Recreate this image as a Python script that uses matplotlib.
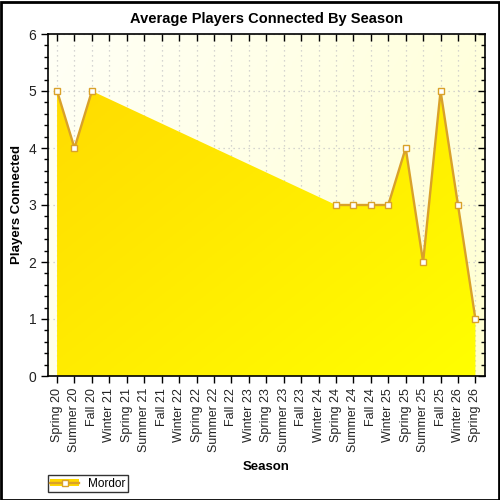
import numpy as np
import matplotlib
matplotlib.use("Agg")
import matplotlib.pyplot as plt
from matplotlib.colors import LinearSegmentedColormap
from matplotlib.patches import Rectangle, Patch
from matplotlib.lines import Line2D
from matplotlib.ticker import MultipleLocator

plt.rcParams['font.family'] = ['Liberation Sans', 'DejaVu Sans']

seasons = ["Spring 20", "Summer 20", "Fall 20", "Winter 21", "Spring 21", "Summer 21",
           "Fall 21", "Winter 22", "Spring 22", "Summer 22", "Fall 22", "Winter 23",
           "Spring 23", "Summer 23", "Fall 23", "Winter 24", "Spring 24", "Summer 24",
           "Fall 24", "Winter 25", "Spring 25", "Summer 25", "Fall 25", "Winter 26",
           "Spring 26"]
mordor = [5, 4, 5, None, None, None, None, None, None, None, None, None, None, None,
          None, None, 3, 3, 3, 3, 4, 2, 5, 3, 1]

x = np.arange(len(seasons))
y = np.array([np.nan if v is None else v for v in mordor], dtype=float)
valid = ~np.isnan(y)

fig = plt.figure(figsize=(5, 5), dpi=100)
ax = fig.add_axes([0.096, 0.248, 0.874, 0.684])
ax.set_xlim(-0.52, 24.55)
ax.set_ylim(0, 6)

# background gradient
bg = LinearSegmentedColormap.from_list("bg", ["#FFFFF6", "#FFFFD2"])
gx, gy = np.meshgrid(np.linspace(0, 1, 200), np.linspace(1, 0, 200))
ax.imshow(gx * 0.7 + (1 - gy) * 0.3, cmap=bg, extent=[0, 1, 0, 1], transform=ax.transAxes,
          aspect='auto', zorder=0, vmin=0, vmax=1)

# grid
ax.set_xticks(x)
ax.grid(True, which='major', color='#C8C8C8', linestyle=(0, (1, 3)), linewidth=0.9, zorder=1)

# area fill with gradient
poly = ax.fill_between(x[valid], 0, y[valid], color='none', zorder=2)
fg = LinearSegmentedColormap.from_list("fg", ["#FFD800", "#FFFF00"])
im = ax.imshow(gx * 0.5 + (1 - gy) * 0.5, cmap=fg, extent=[0, 1, 0, 1], transform=ax.transAxes,
               aspect='auto', zorder=2, vmin=0, vmax=1)
path = poly.get_paths()[0]
im.set_clip_path(path, transform=ax.transData)

# line (broken where missing) and markers
ax.plot(x, y, color='#D9A12A', linewidth=1.7, zorder=3, solid_joinstyle='miter')
ax.plot(x[valid], y[valid], linestyle='none', marker='s', markersize=5,
        markerfacecolor='white', markeredgecolor='#D9A12A', markeredgewidth=1.0, zorder=4)

# ticks
ax.set_xticklabels(seasons, rotation=90, fontsize=9, color='#222222')
ax.yaxis.set_major_locator(MultipleLocator(1))
ax.yaxis.set_minor_locator(MultipleLocator(0.2))
ax.tick_params(axis='y', which='major', direction='out', length=5, width=1,
               labelsize=10, labelcolor='#222222', right=True)
ax.tick_params(axis='y', which='minor', direction='out', length=3, width=1, right=True)
ax.tick_params(axis='x', which='major', direction='out', length=5, width=1, top=True)
for t in ax.yaxis.get_ticklines(minor=False)[1::2] + ax.yaxis.get_ticklines(minor=True)[1::2]:
    t.set_marker(0)  # right side inward
for t in ax.xaxis.get_ticklines()[1::2]:
    t.set_marker(3)  # top side inward (down)
for sp in ax.spines.values():
    sp.set_linewidth(1.2)
    sp.set_color('black')

ax.set_title("Average Players Connected By Season", fontsize=10.5, fontweight='bold', pad=8)
ax.set_xlabel("Season", fontsize=9.5, fontweight='bold', labelpad=6)
ax.set_ylabel("Players Connected", fontsize=9.5, fontweight='bold', labelpad=4)

# legend
h_patch = Patch(facecolor='#FFD800', edgecolor='none')
h_line = Line2D([], [], color='#D9A12A', linewidth=1.7, marker='s', markersize=5,
                markerfacecolor='white', markeredgecolor='#D9A12A')
leg = fig.legend([(h_patch, h_line)], ["Mordor"], loc='lower left',
                 bbox_to_anchor=(0.096, 0.016), fontsize=8.5, frameon=True, fancybox=False,
                 edgecolor='black', borderpad=0.2, handlelength=2.4, handleheight=0.6,
                 borderaxespad=0, handletextpad=0.8)
leg.get_frame().set_linewidth(1)

# figure border
fig.patches.append(Rectangle((0.001, 0.001), 0.996, 0.996, transform=fig.transFigure,
                             fill=False, edgecolor='black', linewidth=2))

fig.savefig("out.png", dpi=100)
